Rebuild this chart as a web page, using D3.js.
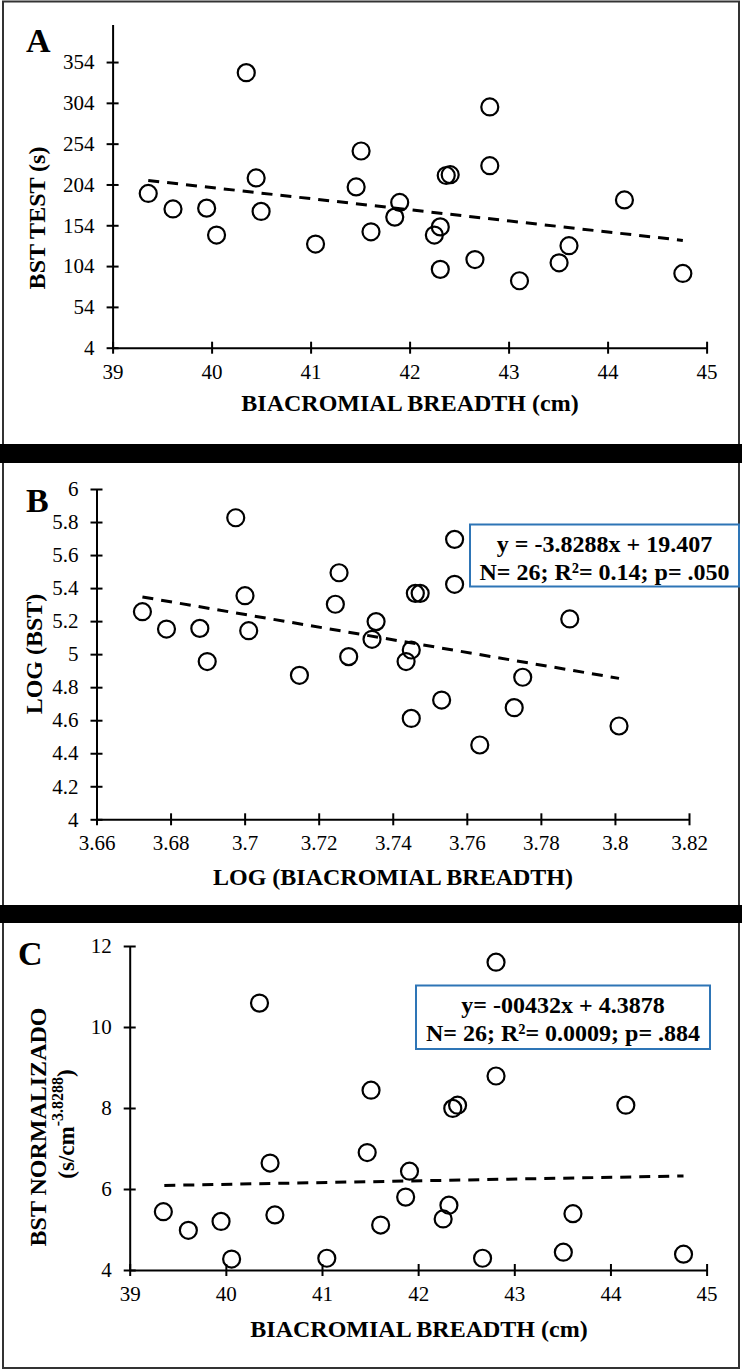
<!DOCTYPE html>
<html>
<head>
<meta charset="utf-8">
<script src="https://cdn.jsdelivr.net/npm/d3@7"></script>
<style>
  body { margin: 0; background: #fff; }
  svg text { font-family: "Liberation Serif", "Times New Roman", serif; fill: #000; }
</style>
</head>
<body>
<div id="app"></div>
<script>
// panel A : biacromial breadth (cm) vs BST test (s)
const breadthA = [39.36, 39.61, 39.95, 40.05, 40.35, 40.45, 40.50, 41.05, 41.46, 41.51, 41.61, 41.85, 41.90,
                  42.25, 42.31, 42.31, 42.37, 42.41, 42.66, 42.81, 42.81, 43.11, 43.51, 43.61, 44.17, 44.76];
const bstA = [193, 174, 175, 142, 341, 212, 171, 131, 201, 245, 146, 164, 182,
              142, 152, 100, 215, 216, 112, 299, 227, 86, 108, 129, 185, 95];

// panel B : log values
const logBreadth = [3.6724, 3.6789, 3.6879, 3.6899, 3.6976, 3.7001, 3.7011, 3.7148, 3.7245, 3.7255, 3.7281, 3.7344, 3.7355,
                    3.7436, 3.7450, 3.7450, 3.7461, 3.7474, 3.7532, 3.7567, 3.7567, 3.7635, 3.7728, 3.7751, 3.7878, 3.8011];
const logBst = [5.257, 5.152, 5.156, 4.955, 5.826, 5.354, 5.142, 4.872, 5.302, 5.493, 4.985, 5.090, 5.197,
                4.955, 5.025, 4.611, 5.368, 5.368, 4.722, 5.695, 5.423, 4.450, 4.676, 4.860, 5.213, 4.565];

// panel C : normalized BST (points under 4 fall outside the axis)
const breadthC = [39.35, 39.61, 39.95, 40.06, 40.35, 40.46, 40.51, 41.05, 41.47, 41.51, 41.61, 41.87,
                  41.91, 42.26, 42.32, 42.36, 42.41, 42.67, 42.81, 42.81, 43.51, 43.61, 44.16, 44.76];
const bstNorm = [5.44, 4.98, 5.20, 4.27, 10.59, 6.64, 5.36, 4.29, 6.90, 8.44, 5.11, 5.80,
                 6.44, 5.26, 5.60, 7.99, 8.07, 4.29, 11.60, 8.79, 4.44, 5.39, 8.07, 4.39];

const cmTicks = [39, 40, 41, 42, 43, 44, 45];
const logTicks = [3.66, 3.68, 3.7, 3.72, 3.74, 3.76, 3.78, 3.8, 3.82];
const bstTicks = [4, 54, 104, 154, 204, 254, 304, 354];
const logBstTicks = [4, 4.2, 4.4, 4.6, 4.8, 5, 5.2, 5.4, 5.6, 5.8, 6];
const normTicks = [4, 6, 8, 10, 12];

const trendB = { slope: -3.8288, intercept: 19.407 };
const trendC = { slope: 0.0432, intercept: 4.3878 };
const legendB = ['y = -3.8288x + 19.407', 'N= 26; R\u00b2= 0.14; p= .050'];
const legendC = ['y= -00432x + 4.3878', 'N= 26; R\u00b2= 0.0009; p= .884'];

const W = 742, H = 1370;
const fmt = d => String(+d.toFixed(2));

// least squares, like the excel trendline
function fit(xs, ys) {
  const mx = d3.mean(xs), my = d3.mean(ys);
  const sxy = d3.sum(xs, (x, i) => (x - mx) * (ys[i] - my));
  const sxx = d3.sum(xs, x => (x - mx) * (x - mx));
  const slope = sxy / sxx;
  return { slope, intercept: my - slope * mx };
}

const panels = [
  {
    letter: 'A', letterPos: [26, 52],
    xs: breadthA, ys: bstA, trend: fit(breadthA, bstA),
    xDomain: [39, 45], xRange: [112.6, 706.6], xTicks: cmTicks,
    yDomain: [4, 400], yRange: [347.7, 24.5], yTicks: bstTicks,
    xTitle: 'BIACROMIAL BREADTH (cm)', xTitlePos: [410, 411],
    yTitle: ['BST TEST (s)'], yTitlePos: [[37, 218]]
  },
  {
    letter: 'B', letterPos: [26, 512],
    xs: logBreadth, ys: logBst, trend: trendB,
    xDomain: [3.66, 3.82], xRange: [96.5, 689], xTicks: logTicks,
    yDomain: [4, 6], yRange: [819.3, 489], yTicks: logBstTicks,
    xTitle: 'LOG (BIACROMIAL BREADTH)', xTitlePos: [393, 885],
    yTitle: ['LOG (BST)'], yTitlePos: [[34, 654]],
    legend: legendB, legendBox: [470, 524.5, 269, 62]
  },
  {
    letter: 'C', letterPos: [18, 965],
    xs: breadthC, ys: bstNorm, trend: trendC, trendX: [39.36, 44.76],
    xDomain: [39, 45], xRange: [129.7, 706.6], xTicks: cmTicks,
    yDomain: [4, 12], yRange: [1270, 946], yTicks: normTicks,
    xTitle: 'BIACROMIAL BREADTH (cm)', xTitlePos: [419, 1337],
    yTitle: ['BST NORMALIZADO', 'sup'], yTitlePos: [[38, 1127], [66, 1124]],
    legend: legendC, legendBox: [416, 985.5, 294, 63.5]
  }
];

function main() {
  const svg = d3.select('#app').append('svg')
    .attr('width', W).attr('height', H);

  svg.append('rect').attr('x', 3).attr('y', 1.5)
    .attr('width', W - 6).attr('height', H - 3.5)
    .attr('fill', '#fff').attr('stroke', '#333').attr('stroke-width', 2);

  // black separators between the panels
  svg.selectAll('rect.band')
    .data([[444, 19], [905, 18]])
    .enter().append('rect')
    .attr('class', 'band')
    .attr('x', 0).attr('width', W)
    .attr('y', d => d[0]).attr('height', d => d[1])
    .attr('fill', '#000');

  panels.forEach(p => drawPanel(svg, p));
}

function drawPanel(svg, p) {
  const g = svg.append('g');
  const x = d3.scaleLinear().domain(p.xDomain).range(p.xRange);
  const y = d3.scaleLinear().domain(p.yDomain).range(p.yRange);

  const xAxis = g.append('g')
    .attr('transform', `translate(0,${p.yRange[0]})`)
    .call(d3.axisBottom(x).tickValues(p.xTicks).tickFormat(fmt)
      .tickSizeOuter(0).tickSizeInner(6).tickPadding(10));
  xAxis.selectAll('.tick line').attr('y1', -6);

  const yAxis = g.append('g')
    .attr('transform', `translate(${p.xRange[0]},0)`)
    .call(d3.axisLeft(y).tickValues(p.yTicks).tickFormat(fmt)
      .tickSizeOuter(0).tickSizeInner(6).tickPadding(12));
  yAxis.selectAll('.tick line').attr('x1', 6);

  [xAxis, yAxis].forEach(a => {
    a.attr('font-family', '"Liberation Serif", serif').attr('font-size', 21);
    a.selectAll('path, line').attr('stroke', '#000').attr('stroke-width', 2);
  });

  // trend line over the data range
  const tx = p.trendX || d3.extent(p.xs);
  g.append('line')
    .attr('x1', x(tx[0])).attr('y1', y(p.trend.slope * tx[0] + p.trend.intercept))
    .attr('x2', x(tx[1])).attr('y2', y(p.trend.slope * tx[1] + p.trend.intercept))
    .attr('stroke', '#000').attr('stroke-width', 3)
    .attr('stroke-dasharray', '11,8');

  g.selectAll('circle')
    .data(p.xs.map((v, i) => [v, p.ys[i]]))
    .enter().append('circle')
    .attr('cx', d => x(d[0]))
    .attr('cy', d => y(d[1]))
    .attr('r', 8.5)
    .attr('fill', 'none')
    .attr('stroke', '#000')
    .attr('stroke-width', 2.2);

  g.append('text')
    .attr('x', p.letterPos[0]).attr('y', p.letterPos[1])
    .attr('font-size', 34).attr('font-weight', 'bold')
    .text(p.letter);

  g.append('text')
    .attr('x', p.xTitlePos[0]).attr('y', p.xTitlePos[1])
    .attr('text-anchor', 'middle')
    .attr('font-size', 24).attr('font-weight', 'bold')
    .text(p.xTitle);

  p.yTitle.forEach((t, i) => {
    const [cx, cy] = p.yTitlePos[i];
    const txt = g.append('text')
      .attr('transform', `translate(${cx},${cy}) rotate(-90)`)
      .attr('dy', '0.35em')
      .attr('text-anchor', 'middle')
      .attr('font-weight', 'bold');
    if (t === 'sup') {
      txt.attr('font-size', 23);
      txt.append('tspan').text('(s/cm');
      txt.append('tspan').attr('font-size', 16).attr('dy', '-0.7em').text('-3.8288');
      txt.append('tspan').attr('dy', '0.45em').text(')');
    } else {
      txt.attr('font-size', 24).text(t);
    }
  });

  if (p.legend) {
    const [bx, by, bw, bh] = p.legendBox;
    g.append('rect')
      .attr('x', bx).attr('y', by).attr('width', bw).attr('height', bh)
      .attr('fill', '#fff').attr('stroke', '#2e75b6').attr('stroke-width', 2);
    g.selectAll('text.leg')
      .data(p.legend)
      .enter().append('text')
      .attr('class', 'leg')
      .attr('x', bx + bw / 2)
      .attr('y', (d, i) => by + 27 + i * 28)
      .attr('text-anchor', 'middle')
      .attr('font-size', 24).attr('font-weight', 'bold')
      .text(d => d);
  }
}

main();
</script>
</body>
</html>
